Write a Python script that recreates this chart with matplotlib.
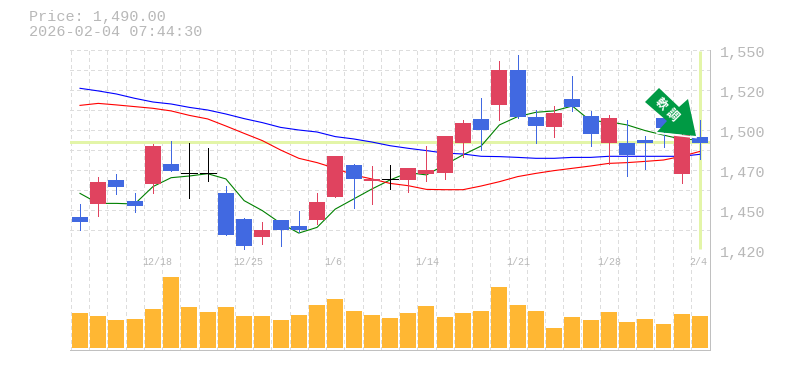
import matplotlib
matplotlib.use('Agg')
import matplotlib.pyplot as plt
from matplotlib.patches import Polygon

plt.rcParams['font.family'] = ['Liberation Mono', 'DejaVu Sans Mono']

# Daily prices
opens = [1441.4, 1449.9, 1465.5, 1451.9, 1462.9, 1475.9, 1469.8, 1469.8, 1457.0, 1440.2,
         1428.5, 1439.5, 1435.6, 1439.5, 1454.5, 1475.3, 1464.9, 1466.2, 1465.5, 1469.4,
         1470.1, 1489.6, 1505.2, 1514.3, 1537.0, 1506.5, 1500.0, 1518.2, 1507.1, 1489.6,
         1489.6, 1491.5, 1505.8, 1469.4, 1493.5]
closes = [1438.2, 1464.2, 1461.0, 1448.6, 1487.6, 1471.4, 1469.8, 1469.8, 1429.8, 1422.6,
          1433.0, 1433.0, 1433.0, 1451.2, 1481.1, 1466.2, 1466.2, 1466.2, 1473.3, 1472.0,
          1494.1, 1502.6, 1498.0, 1537.0, 1506.5, 1500.6, 1509.0, 1513.0, 1495.4, 1505.8,
          1481.8, 1489.6, 1499.3, 1494.8, 1489.6]
highs = [1450.0, 1467.4, 1469.4, 1457.0, 1488.9, 1490.9, 1489.6, 1486.3, 1461.6, 1440.8,
         1438.2, 1439.5, 1445.4, 1457.0, 1481.1, 1475.9, 1474.6, 1475.3, 1473.3, 1487.6,
         1494.1, 1504.5, 1518.8, 1542.9, 1546.8, 1511.0, 1513.6, 1533.1, 1510.4, 1507.8,
         1504.5, 1494.1, 1507.0, 1496.0, 1504.5]
lows = [1433.0, 1442.1, 1456.4, 1444.7, 1457.0, 1471.4, 1453.8, 1464.9, 1429.8, 1420.0,
        1423.9, 1422.6, 1431.7, 1436.9, 1454.5, 1447.3, 1449.9, 1459.7, 1457.7, 1464.9,
        1466.2, 1480.5, 1485.0, 1504.5, 1505.8, 1489.6, 1493.5, 1510.4, 1487.6, 1475.9,
        1468.1, 1472.7, 1487.0, 1463.6, 1479.2]

ma_short = [1456.8, 1450.3, 1450.3, 1449.9, 1461.2, 1467.0, 1468.1, 1469.6, 1466.2, 1452.1,
            1445.6, 1437.4, 1431.0, 1434.7, 1446.6, 1453.1, 1459.6, 1465.5, 1470.3, 1468.8,
            1475.3, 1481.8, 1487.6, 1501.3, 1506.7, 1509.5, 1510.4, 1513.6, 1503.9, 1503.4,
            1501.3, 1497.6, 1494.7, 1492.0, 1491.5]
ma_mid = [1525.1, 1523.4, 1521.4, 1518.6, 1516.2, 1514.9, 1512.7, 1511.0, 1508.4, 1505.4,
          1502.8, 1499.7, 1498.0, 1496.7, 1493.7, 1492.2, 1490.2, 1487.8, 1486.1, 1484.6,
          1483.0, 1482.4, 1480.9, 1480.7, 1480.2, 1479.6, 1479.6, 1480.2, 1480.2, 1480.9,
          1480.9, 1480.9, 1480.9, 1480.9, 1482.2]
ma_long = [1514.0, 1515.3, 1514.3, 1513.2, 1512.1, 1510.4, 1507.5, 1505.2, 1500.6, 1495.8,
           1491.1, 1485.0, 1479.6, 1476.8, 1473.1, 1468.8, 1466.2, 1463.3, 1461.8, 1459.4,
           1459.2, 1459.2, 1461.6, 1464.4, 1467.7, 1469.8, 1471.6, 1473.1, 1474.6, 1476.3,
           1476.8, 1477.6, 1478.5, 1480.9, 1484.1]

volumes = [35, 32, 28, 29, 39, 71, 41, 36, 41, 32, 32, 28, 33, 43, 49, 37, 33, 30,
           35, 42, 31, 35, 37, 61, 43, 37, 20, 31, 28, 36, 26, 29, 24, 34, 32]

date_labels = ['12/18', '12/25', '1/6', '1/14', '1/21', '1/28', '2/4']
date_positions = [4, 9, 14, 19, 24, 29, 34]
price_ticks = [1550, 1524, 1498, 1472, 1446, 1420]
price_labels = ['1,550', '1,520', '1,500', '1,470', '1,450', '1,420']
last_price = 1490
last_day = 34

TEXT = '#b8b8b8'
GRID = '#dddddd'
EDGE = '#c0c0c0'
UP = '#e0435f'
DOWN = '#4169e1'
GLOW = '#e3f5a8'
W, H = 785, 370
PX = 0.72  # one pixel in points at dpi 100

fig = plt.figure(figsize=(W / 100, H / 100), dpi=100)
ax = fig.add_axes([70 / W, 1 - 250 / H, 640 / W, 200 / H])
ax2 = fig.add_axes([70 / W, 1 - 350 / H, 640 / W, 100 / H], sharex=ax)

days = range(len(opens))

# Candles
for i in days:
    if opens[i] == closes[i]:
        colour = 'black'
    elif closes[i] > opens[i]:
        colour = UP
    else:
        colour = DOWN
    ax.plot([i, i], [lows[i], highs[i]], color=colour, lw=PX, zorder=4, solid_capstyle='butt',
            antialiased=False)
    if opens[i] == closes[i]:
        ax.plot([i - 0.44, i + 0.44], [opens[i], opens[i]], color=colour, lw=PX, zorder=4,
                solid_capstyle='butt', antialiased=False)
    else:
        ax.bar(i, abs(closes[i] - opens[i]), bottom=min(opens[i], closes[i]), width=0.877,
               color=colour, lw=0, zorder=4, antialiased=False)

# Moving averages run behind the candles
ax.plot(days, ma_short, color='#008000', lw=0.8, zorder=3)
ax.plot(days, ma_mid, color='#0000ff', lw=0.8, zorder=3)
ax.plot(days, ma_long, color='#ff0000', lw=0.8, zorder=3)

# Current price and current day markers
ax.axhline(last_price, color=GLOW, lw=3 * PX, zorder=2)
ax.plot([last_day, last_day], [1420.5, 1549.5], color=GLOW, lw=3 * PX, zorder=2,
        solid_capstyle='butt')

ax.set_xlim(-0.548, 34.55)
ax.set_ylim(1420, 1550)
ax.set_yticks([])
ax.tick_params(axis='x', length=0, labelbottom=False)

for tick, label in zip(price_ticks, price_labels):
    ax.annotate(label, xy=(1, tick), xycoords=ax.get_yaxis_transform(), xytext=(10, -3),
                textcoords='offset pixels', color=TEXT, fontsize=10.9, ha='left', va='center')

# Volume
ax2.bar(days, volumes, width=0.877, color='#ffb733', lw=0, zorder=3, antialiased=False)
ax2.set_ylim(-2, 98)
ax2.set_yticks([])
ax2.tick_params(axis='x', length=0, labelbottom=False)

# Grid
for a in (ax, ax2):
    for i in range(len(opens)):
        a.axvline(i - 0.5, color=GRID, lw=PX, ls=(0, (3, 3)), zorder=1, antialiased=False)
    for side in ('top', 'left'):
        a.spines[side].set_visible(False)
    for side in ('right', 'bottom'):
        a.spines[side].set_color(EDGE)
        a.spines[side].set_linewidth(PX)
for k in range(11):
    ax.axhline(1550 - 13 * k, color=GRID, lw=PX, ls=(0, (3, 3)), zorder=1, antialiased=False,
               clip_on=False)

# Date labels sit at the top of the volume panel
for pos, label in zip(date_positions, date_labels):
    ax2.annotate(label, xy=(pos - 0.5, 1), xycoords=ax2.get_xaxis_transform(), xytext=(-2, -12),
                 textcoords='offset pixels', color=TEXT, fontsize=7.2, ha='left', va='center',
                 zorder=6)

# Header
fig.text(29 / W, 1 - 17 / H, 'Price: 1,490.00', color=TEXT, fontsize=10.9, va='center')
fig.text(29 / W, 1 - 32 / H, '2026-02-04 07:44:30', color=TEXT, fontsize=10.9, va='center')


def px(points):
    """ Turns pixel positions from the top left corner into figure fractions """
    return [(x / W, 1 - y / H) for x, y in points]


# Signal arrow on top of everything, white rim only along the lower edge
arrow = [(659, 88), (679, 107), (688, 99), (696, 136), (657, 132), (667, 121), (645, 102)]
fig.add_artist(Polygon(px(arrow), closed=True, facecolor='#009a44', edgecolor='none', zorder=10))
fig.add_artist(plt.Line2D(*zip(*px([(657, 133), (696, 137.5)])), color='white', lw=1.2, zorder=10))
cjk = ['Noto Sans CJK JP', 'DejaVu Sans']
fig.text(661 / W, 1 - 104 / H, '軟', color='white', fontsize=8.5, rotation=-45, ha='center',
         va='center', weight='bold', family=cjk, zorder=11)
fig.text(672 / W, 1 - 115 / H, '調', color='white', fontsize=8.5, rotation=-45, ha='center',
         va='center', weight='bold', family=cjk, zorder=11)

fig.savefig('out.png', dpi=100)
